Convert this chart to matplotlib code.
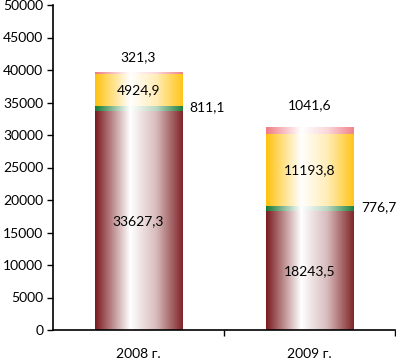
import numpy as np
import matplotlib
matplotlib.use("Agg")
import matplotlib.pyplot as plt
from matplotlib.colors import to_rgb

categories = ["2008 г.", "2009 г."]
seg1 = [33627.3, 18243.5]
seg2 = [811.1, 776.7]
seg3 = [4924.9, 11193.8]
seg4 = [321.3, 1041.6]
labels1 = ["33627,3", "18243,5"]
labels2 = ["811,1", "776,7"]
labels3 = ["4924,9", "11193,8"]
labels4 = ["321,3", "1041,6"]
yticks = [0, 5000, 10000, 15000, 20000, 25000, 30000, 35000, 40000, 45000, 50000]

colors = ["#7A1A1E", "#167A34", "#FFC20E", "#F07C84"]
top_label_offsets = [2300, 3400]

plt.rcParams['font.family'] = ['Lato', 'DejaVu Sans']
fig = plt.figure(figsize=(3.96, 3.61), dpi=100)
ax = fig.add_axes([53/396, 1-330/361, (395-53)/396, (330-5)/361])

x = np.arange(len(categories))
width = 0.51

def gradient_img(color):
    c = np.array(to_rgb(color))
    w = np.array([1, 1, 1.0])
    t = np.linspace(0, 1, 200)
    mix = np.interp(t, [0, 0.4, 0.7, 1.0], [0.0, 1.0, 0.7, 0.05])
    row = c[None, :] * (1 - mix[:, None]) + w[None, :] * mix[:, None]
    return row[None, :, :]

bottoms = np.zeros(len(categories))
for vals, col in zip([seg1, seg2, seg3, seg4], colors):
    bars = ax.bar(x, vals, width, bottom=bottoms, color=col, edgecolor='none')
    img = gradient_img(col)
    for b in bars:
        x0, y0 = b.get_x(), b.get_y()
        im = ax.imshow(img, extent=(x0, x0 + b.get_width(), y0, y0 + b.get_height()),
                       aspect='auto', zorder=2, interpolation='bilinear')
        im.set_clip_path(b)
    bottoms = bottoms + np.array(vals)

fs = 10
b1 = np.array(seg1)
b2 = b1 + np.array(seg2)
b3 = b2 + np.array(seg3)
b4 = b3 + np.array(seg4)
for i in range(len(categories)):
    ax.text(x[i], b1[i] / 2, labels1[i], ha='center', va='center', fontsize=fs, zorder=5)
    ax.text(x[i] + width / 2 + 0.045, b1[i] + seg2[i] / 2 + 300, labels2[i], ha='left', va='center', fontsize=fs, zorder=5)
    ax.text(x[i], b2[i] + seg3[i] / 2, labels3[i], ha='center', va='center', fontsize=fs, zorder=5)
    ax.text(x[i], b4[i] + top_label_offsets[i], labels4[i], ha='center', va='center', fontsize=fs, zorder=5)

ax.set_xlim(-0.5, 1.5)
ax.set_ylim(0, 50000)
ax.set_yticks(yticks)
ax.set_yticklabels([str(v) for v in yticks], fontsize=fs)
ax.set_xticks(x)
ax.set_xticklabels(categories, fontsize=fs)
ax.tick_params(axis='x', length=0, pad=13)
ax.set_xticks([0.5, 1.5], minor=True)
ax.tick_params(axis='x', which='minor', length=4, direction='out', width=1)
ax.tick_params(axis='y', length=4, direction='out', width=1, pad=3)
for s in ['top', 'right']:
    ax.spines[s].set_visible(False)
ax.spines['left'].set_linewidth(1.2)
ax.spines['bottom'].set_linewidth(1.2)

fig.savefig("out.png", dpi=100)
